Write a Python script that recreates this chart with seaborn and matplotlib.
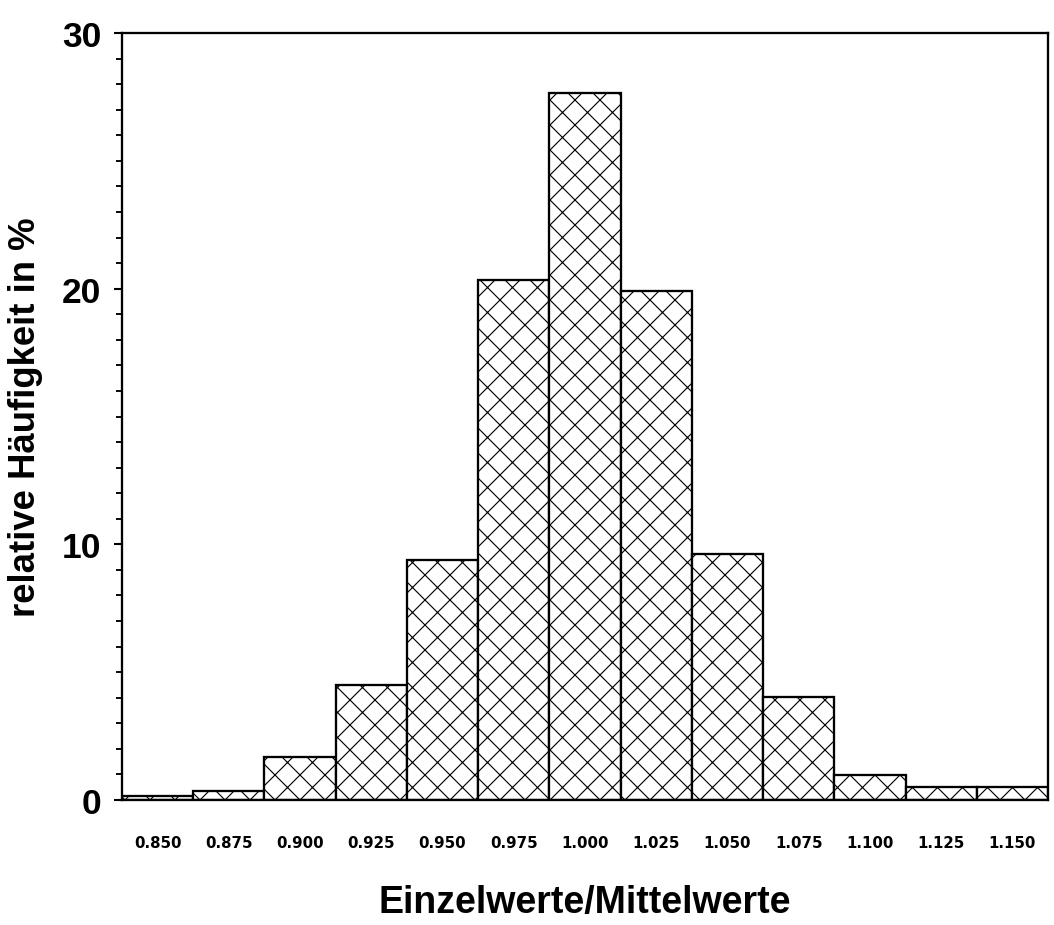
import matplotlib
matplotlib.use("Agg")
import matplotlib.pyplot as plt
from matplotlib import font_manager as fm
from matplotlib.ticker import MultipleLocator
import seaborn as sns
import pandas as pd

# Data
bin_labels = ["0.850", "0.875", "0.900", "0.925", "0.950", "0.975", "1.000",
              "1.025", "1.050", "1.075", "1.100", "1.125", "1.150"]
rel_freq = [0.15, 0.37, 1.68, 4.51, 9.40, 20.34, 27.65,
            19.9, 9.62, 4.04, 0.99, 0.5, 0.5]
y_ticks = [0, 10, 20, 30]


def pick_font(name, weight):
    for f in fm.fontManager.ttflist:
        if (f.name == name and f.weight == weight and f.style == "normal"
                and "narrow" not in f.fname.lower()):
            return fm.FontProperties(fname=f.fname)
    return fm.FontProperties(family=["Liberation Sans", "DejaVu Sans"],
                             weight=weight)


sns.set_theme(style="white")
plt.rcParams['font.family'] = ['Liberation Sans', 'DejaVu Sans']
plt.rcParams['hatch.linewidth'] = 0.55
plt.rcParams['hatch.color'] = 'black'
for key in ['text.color', 'axes.labelcolor', 'xtick.color', 'ytick.color']:
    plt.rcParams[key] = 'black'

bold_sans = pick_font("Liberation Sans", 700)
tick_font = pick_font("DejaVu Sans", 700)

df = pd.DataFrame({"bin": bin_labels, "freq": rel_freq})

dpi = 150
fig = plt.figure(figsize=(1054 / dpi, 926 / dpi), dpi=dpi)
ax = fig.add_axes([122 / 1054, 1 - 801 / 926, (1048 - 122) / 1054, (801 - 34) / 926])

sns.barplot(data=df, x="bin", y="freq", order=bin_labels, width=1.0,
            color="white", edgecolor="black", linewidth=1.1, hatch="xx",
            ax=ax, saturation=1)

ax.set_xlim(-0.5, len(bin_labels) - 0.5)
ax.set_ylim(0, 30)
ax.set_yticks(y_ticks)
ax.yaxis.set_minor_locator(MultipleLocator(1))

for side in ["left", "right", "top", "bottom"]:
    ax.spines[side].set_visible(True)
    ax.spines[side].set_color("black")
    ax.spines[side].set_linewidth(1.1)

ax.tick_params(axis="y", which="major", direction="out", length=4, width=1,
               color="black", pad=6, left=True, labelcolor="black")
ax.tick_params(axis="y", which="minor", direction="out", length=3, width=0.9,
               color="black", left=True)
ax.tick_params(axis="x", which="both", length=0, pad=17, labelcolor="black")

for lbl in ax.get_yticklabels():
    lbl.set_fontproperties(bold_sans)
    lbl.set_fontsize(17)
for lbl in ax.get_xticklabels():
    lbl.set_fontproperties(tick_font)
    lbl.set_fontsize(7.2)

ax.set_xlabel("Einzelwerte/Mittelwerte", fontproperties=bold_sans,
              labelpad=16, color="black")
ax.xaxis.label.set_fontsize(18)
ax.set_ylabel("relative Häufigkeit in %", fontproperties=bold_sans,
              labelpad=9, color="black")
ax.yaxis.label.set_fontsize(17.5)

fig.savefig("out.png", dpi=dpi, facecolor="white")
